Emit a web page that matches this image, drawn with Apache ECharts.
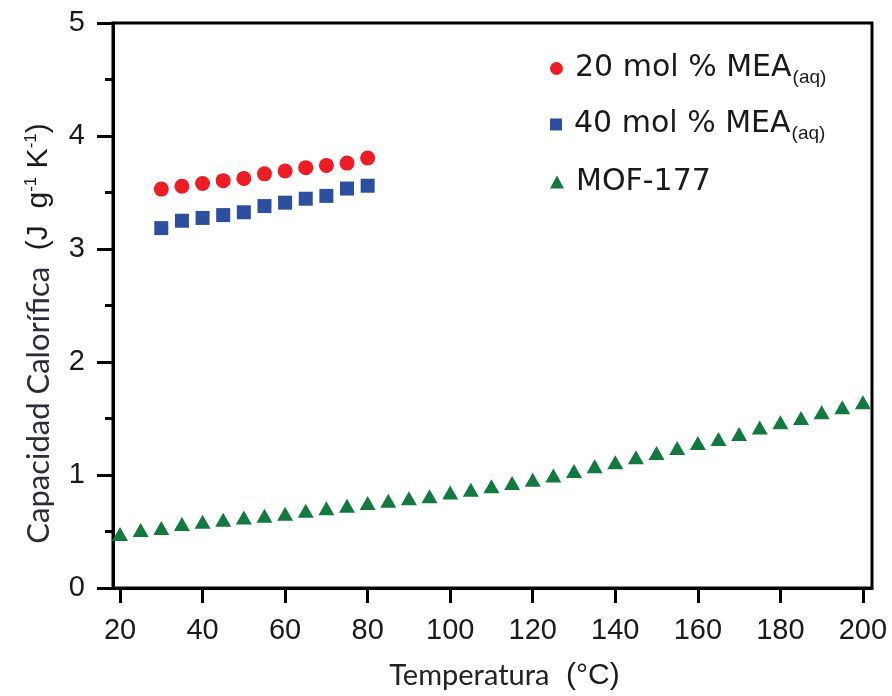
<!DOCTYPE html>
<html>
<head>
<meta charset="utf-8">
<script src="https://cdn.jsdelivr.net/npm/echarts@6/dist/echarts.min.js"></script>
<style>
html,body{margin:0;padding:0;background:#fff;}
#chart{width:892px;height:696px;}
</style>
</head>
<body>
<div id="chart"></div>
<script>
// datos
var tempMEA = [30, 35, 40, 45, 50, 55, 60, 65, 70, 75, 80];
var mea20 = [3.53, 3.555, 3.58, 3.605, 3.625, 3.665, 3.69, 3.72, 3.74, 3.76, 3.805];
var mea40 = [3.185, 3.25, 3.275, 3.30, 3.325, 3.38, 3.41, 3.445, 3.47, 3.535, 3.56];
var tempMOF = [20, 25, 30, 35, 40, 45, 50, 55, 60, 65, 70, 75, 80, 85, 90, 95, 100,
  105, 110, 115, 120, 125, 130, 135, 140, 145, 150, 155, 160, 165, 170, 175, 180,
  185, 190, 195, 200];
var mof177 = [0.478, 0.513, 0.53, 0.566, 0.587, 0.605, 0.625, 0.64, 0.658, 0.684, 0.705,
  0.728, 0.752, 0.773, 0.794, 0.812, 0.845, 0.87, 0.9, 0.929, 0.958, 0.995, 1.035,
  1.077, 1.112, 1.157, 1.195, 1.239, 1.283, 1.319, 1.363, 1.42, 1.466, 1.504, 1.555,
  1.599, 1.643];
var xTicks = [20, 40, 60, 80, 100, 120, 140, 160, 180, 200];

function pairs(xs, ys) {
  var out = [];
  for (var i = 0; i < xs.length; i++) out.push([xs[i], ys[i]]);
  return out;
}

var chart = echarts.init(document.getElementById('chart'));
var sans = '"Liberation Sans", Arial, sans-serif';
var wide = '"DejaVu Sans", sans-serif';
var calib = 'Lato, "Open Sans", sans-serif';

// texto de la leyenda con subindice (aq)
var legendText = {
  fontFamily: wide,
  color: '#1a1a1a',
  rich: {
    n: {fontFamily: wide, fontSize: 30, color: '#1a1a1a', lineHeight: 30, padding: [0, 0, 0, 7]},
    s: {fontFamily: sans, fontSize: 19, color: '#1a1a1a', lineHeight: 14, padding: [18, 0, 0, 1]}
  }
};
function legendFmt(name) {
  if (name === 'MOF-177') return '{n|MOF-177}';
  return '{n|' + name + '}{s|(aq)}';
}

var option = {
  backgroundColor: '#fff',
  animation: false,
  grid: {left: 113, right: 20, top: 23, bottom: 107, show: true, borderColor: '#000', borderWidth: 3},
  legend: [
    {data: ['20 mol % MEA'], left: 550, top: 50, padding: 0, itemWidth: 13, itemHeight: 13,
     formatter: legendFmt, textStyle: legendText},
    {data: ['40 mol % MEA'], left: 550, top: 106, padding: 0, itemWidth: 12, itemHeight: 12,
     formatter: legendFmt, textStyle: legendText},
    {data: ['MOF-177'], left: 550, top: 167, padding: 0, itemWidth: 14, itemHeight: 13,
     formatter: legendFmt, textStyle: legendText}
  ],
  xAxis: {
    type: 'value',
    min: 18.3,
    max: 202.2,
    name: '{a|Temperatura}{b|  (°C)}',
    nameLocation: 'middle',
    nameGap: 73,
    nameTextStyle: {
      padding: [0, 0, 0, 24],
      rich: {
        a: {fontFamily: calib, fontSize: 29, color: '#222'},
        b: {fontFamily: sans, fontSize: 30, color: '#1a1a1a'}
      }
    },
    axisLine: {lineStyle: {color: '#000', width: 3}},
    axisTick: {length: 15, lineStyle: {color: '#000', width: 3}, customValues: xTicks},
    axisLabel: {fontFamily: sans, fontSize: 29, color: '#1a1a1a', margin: 28, customValues: xTicks},
    splitLine: {show: false}
  },
  yAxis: {
    type: 'value',
    min: 0,
    max: 5,
    interval: 1,
    name: '{c|Capacidad Calorífica}{p|  (J  g}{u|-1}{p| K}{u|-1}{p|)}',
    nameLocation: 'middle',
    nameGap: 58,
    nameTextStyle: {
      padding: [0, 56, 0, 0],
      rich: {
        c: {fontFamily: calib, fontSize: 31, color: '#2b2b3a', lineHeight: 32},
        p: {fontFamily: sans, fontSize: 30, color: '#1a1a1a', lineHeight: 32},
        u: {fontFamily: sans, fontSize: 17, color: '#1a1a1a', lineHeight: 14, verticalAlign: 'top'}
      }
    },
    axisLine: {lineStyle: {color: '#000', width: 3}},
    axisTick: {length: 16, lineStyle: {color: '#000', width: 3}},
    minorTick: {show: true, splitNumber: 2, length: 8, lineStyle: {color: '#000', width: 3}},
    axisLabel: {fontFamily: sans, fontSize: 29, color: '#1a1a1a', margin: 28},
    splitLine: {show: false},
    minorSplitLine: {show: false}
  },
  series: [
    {name: '20 mol % MEA', type: 'scatter', symbol: 'circle', symbolSize: 15,
     itemStyle: {color: '#ee1d25', opacity: 1}, data: pairs(tempMEA, mea20)},
    {name: '40 mol % MEA', type: 'scatter', symbol: 'rect', symbolSize: 14,
     itemStyle: {color: '#2d4f9f', opacity: 1}, data: pairs(tempMEA, mea40)},
    {name: 'MOF-177', type: 'scatter', symbol: 'triangle', symbolSize: [16, 14],
     itemStyle: {color: '#12793f', opacity: 1}, data: pairs(tempMOF, mof177)}
  ]
};
chart.setOption(option);
</script>
</body>
</html>
